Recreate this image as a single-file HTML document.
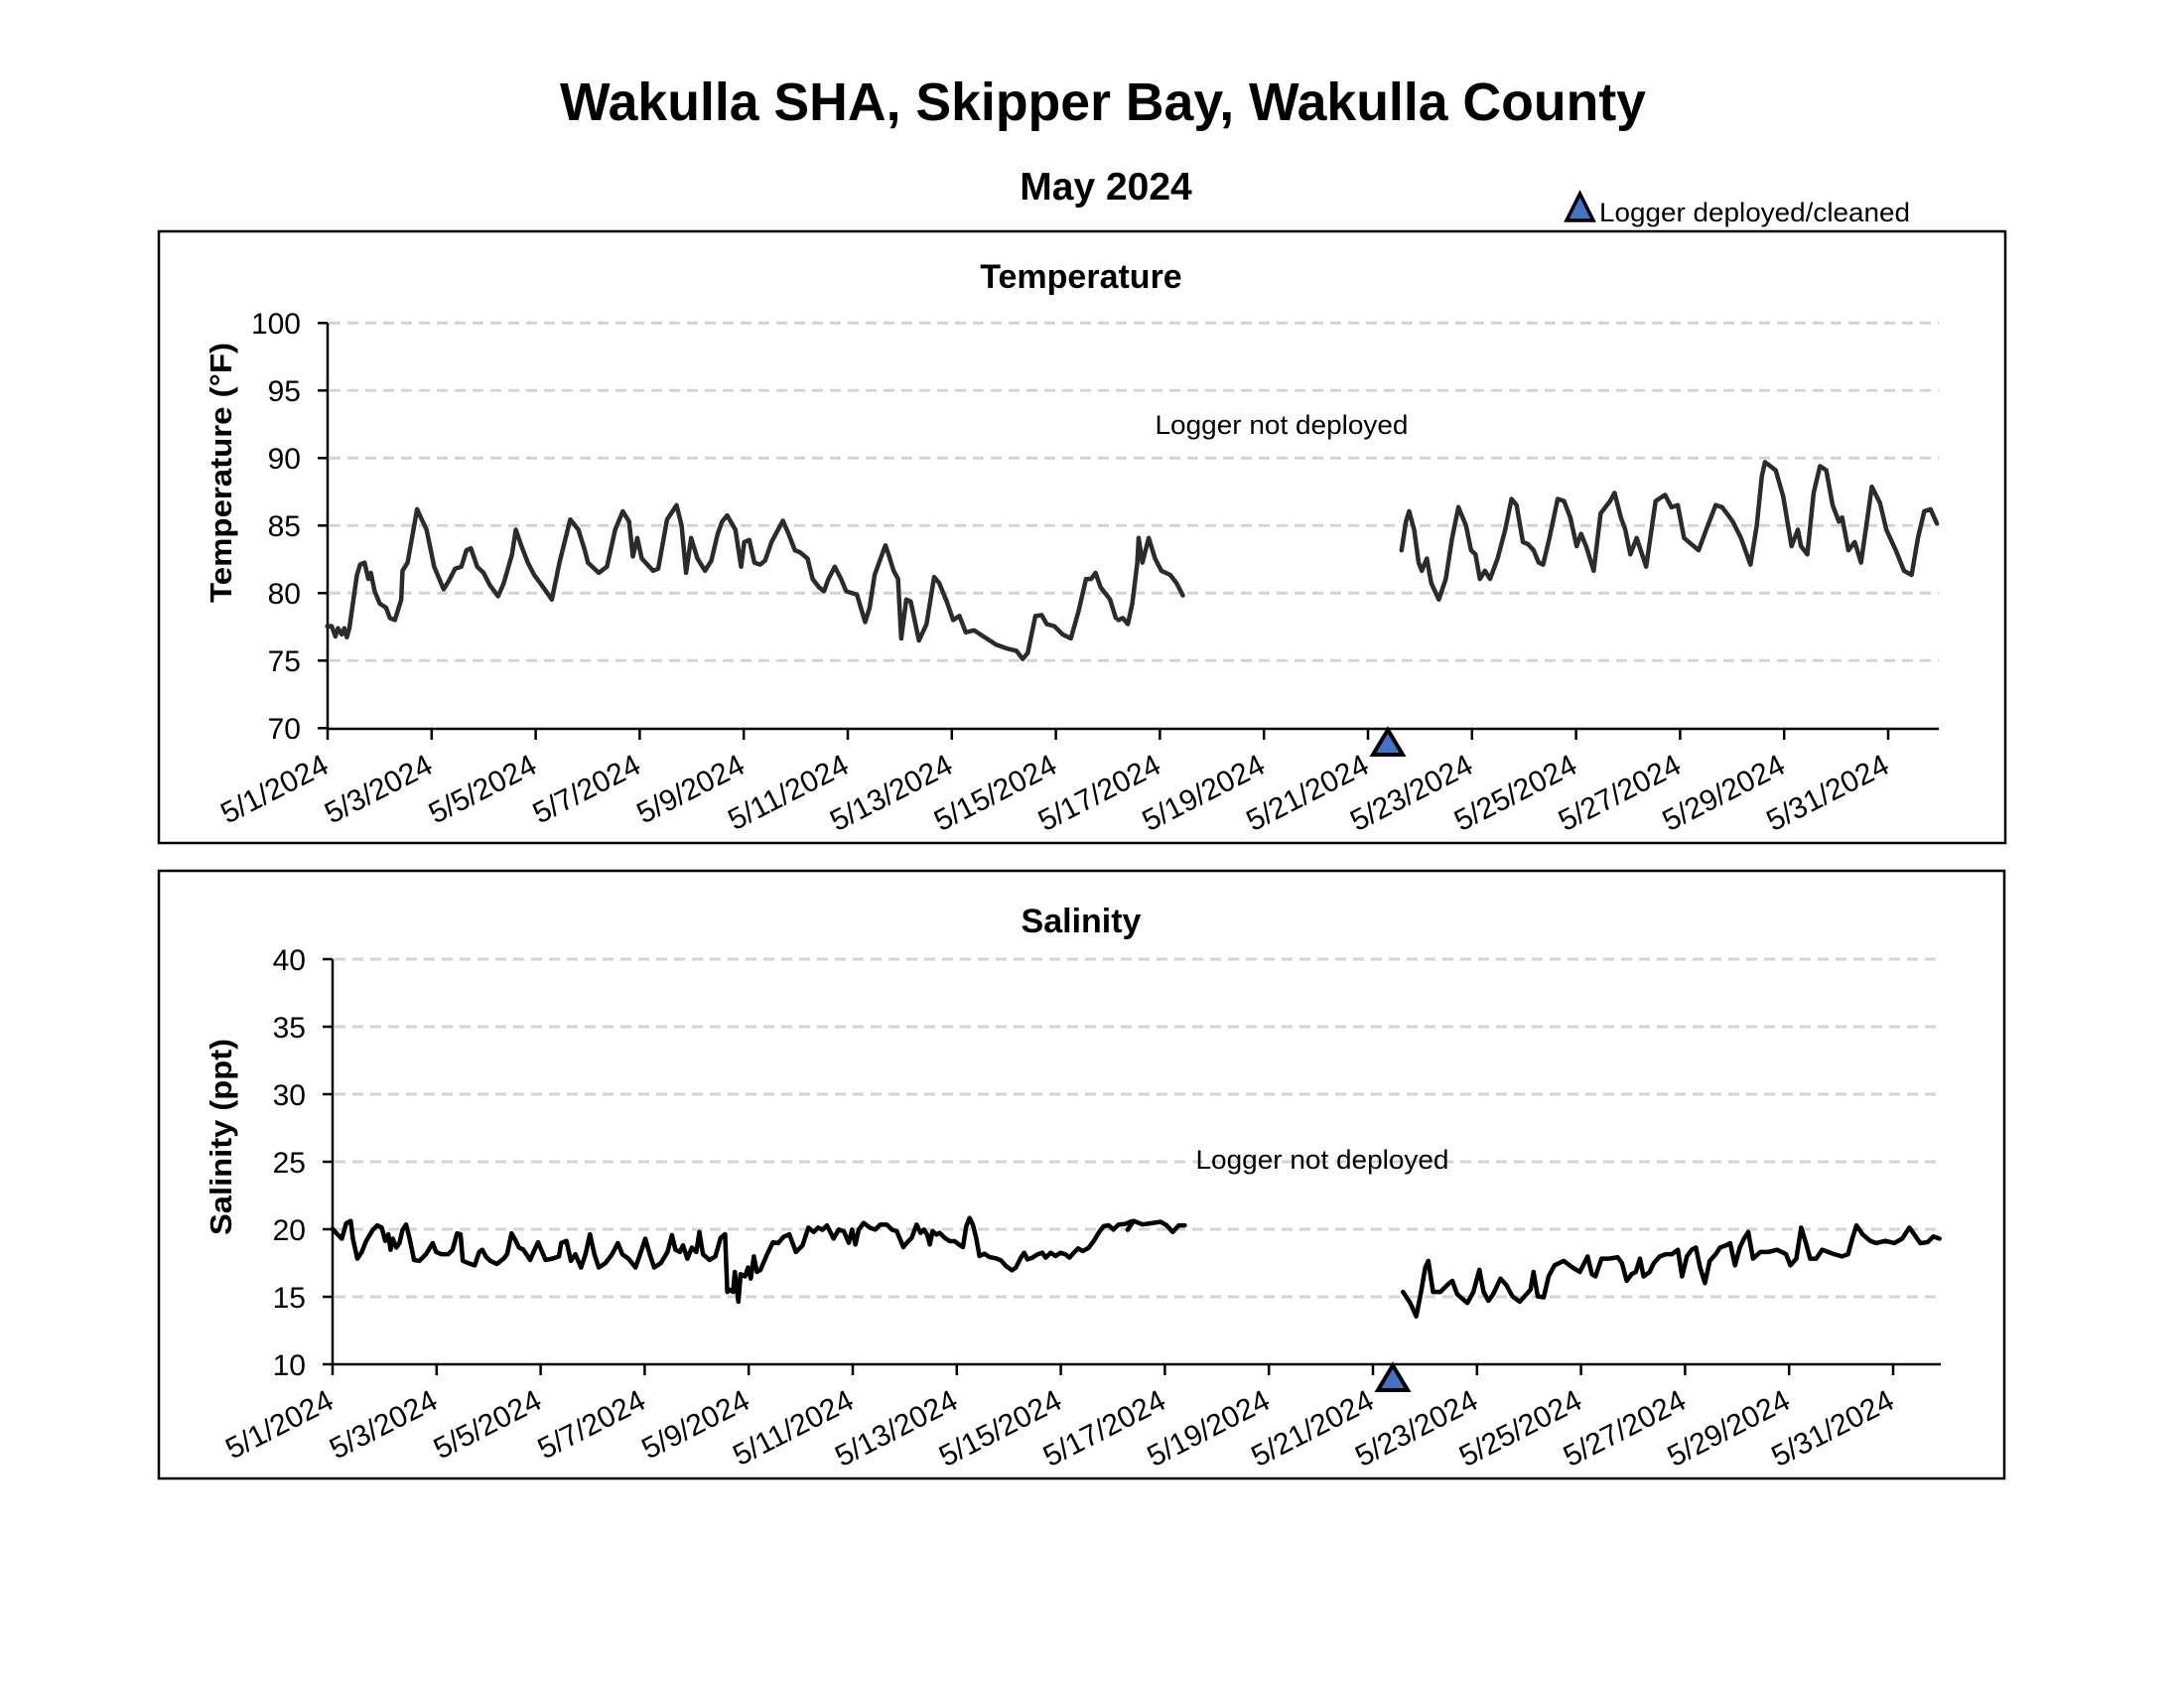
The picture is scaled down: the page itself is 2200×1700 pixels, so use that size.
<!DOCTYPE html>
<html><head><meta charset="utf-8"><style>
html,body{margin:0;padding:0;background:#fff;}
svg{display:block;}
text{font-family:"Liberation Sans",Arial,sans-serif;}
</style></head><body>
<svg width="2200" height="1700" viewBox="0 0 2200 1700" xmlns="http://www.w3.org/2000/svg">
<rect width="2200" height="1700" fill="#fff"/>
<!-- Header -->
<text x="1111" y="121" text-anchor="middle" font-size="54" font-weight="bold" textLength="1094" lengthAdjust="spacingAndGlyphs">Wakulla SHA, Skipper Bay, Wakulla County</text>
<text x="1114" y="201" text-anchor="middle" font-size="39" font-weight="bold">May 2024</text>
<polygon points="1591.5,195 1578,222 1605,222" fill="#4472c4" stroke="#000" stroke-width="3.5" stroke-linejoin="miter"/>
<text x="1611" y="223" font-size="27" textLength="313" lengthAdjust="spacingAndGlyphs">Logger deployed/cleaned</text>

<!-- ================= TEMPERATURE ================= -->
<rect x="160" y="233" width="1860" height="616" fill="none" stroke="#000" stroke-width="2.5"/>
<text x="1089" y="290" text-anchor="middle" font-size="34" font-weight="bold">Temperature</text>
<g stroke="#d3d3d3" stroke-width="3" stroke-dasharray="11,7">
<line x1="332" y1="325.3" x2="1953" y2="325.3"/>
<line x1="332" y1="393.3" x2="1953" y2="393.3"/>
<line x1="332" y1="461.3" x2="1953" y2="461.3"/>
<line x1="332" y1="529.3" x2="1953" y2="529.3"/>
<line x1="332" y1="597.3" x2="1953" y2="597.3"/>
<line x1="332" y1="665.3" x2="1953" y2="665.3"/>
</g>
<g stroke="#000" stroke-width="2.5">
<line x1="330" y1="325" x2="330" y2="734"/>
<line x1="330" y1="734" x2="1953" y2="734"/>
<line x1="320" y1="325.3" x2="330" y2="325.3"/><line x1="320" y1="393.3" x2="330" y2="393.3"/>
<line x1="320" y1="461.3" x2="330" y2="461.3"/><line x1="320" y1="529.3" x2="330" y2="529.3"/>
<line x1="320" y1="597.3" x2="330" y2="597.3"/><line x1="320" y1="665.3" x2="330" y2="665.3"/>
<line x1="320" y1="733.3" x2="330" y2="733.3"/>
</g>
<g font-size="30" text-anchor="end">
<text x="303" y="336">100</text><text x="303" y="404">95</text><text x="303" y="472">90</text>
<text x="303" y="540">85</text><text x="303" y="608">80</text><text x="303" y="676">75</text><text x="303" y="744">70</text>
</g>
<text transform="translate(233,476) rotate(-90)" text-anchor="middle" font-size="31" font-weight="bold" textLength="262" lengthAdjust="spacingAndGlyphs">Temperature (°F)</text>
<text x="1291" y="437" text-anchor="middle" font-size="27" textLength="255" lengthAdjust="spacingAndGlyphs">Logger not deployed</text>
<g stroke="#000" stroke-width="2.5">
<line x1="330" y1="734" x2="330" y2="745"/><line x1="434.8" y1="734" x2="434.8" y2="745"/>
<line x1="539.6" y1="734" x2="539.6" y2="745"/><line x1="644.4" y1="734" x2="644.4" y2="745"/>
<line x1="749.2" y1="734" x2="749.2" y2="745"/><line x1="854" y1="734" x2="854" y2="745"/>
<line x1="958.8" y1="734" x2="958.8" y2="745"/><line x1="1063.6" y1="734" x2="1063.6" y2="745"/>
<line x1="1168.4" y1="734" x2="1168.4" y2="745"/><line x1="1273.2" y1="734" x2="1273.2" y2="745"/>
<line x1="1378" y1="734" x2="1378" y2="745"/><line x1="1482.8" y1="734" x2="1482.8" y2="745"/>
<line x1="1587.6" y1="734" x2="1587.6" y2="745"/><line x1="1692.4" y1="734" x2="1692.4" y2="745"/>
<line x1="1797.2" y1="734" x2="1797.2" y2="745"/><line x1="1902" y1="734" x2="1902" y2="745"/>
</g>
<g font-size="30" text-anchor="end">
<text transform="translate(333,777) rotate(-27)">5/1/2024</text>
<text transform="translate(437.8,777) rotate(-27)">5/3/2024</text>
<text transform="translate(542.6,777) rotate(-27)">5/5/2024</text>
<text transform="translate(647.4,777) rotate(-27)">5/7/2024</text>
<text transform="translate(752.2,777) rotate(-27)">5/9/2024</text>
<text transform="translate(857,777) rotate(-27)">5/11/2024</text>
<text transform="translate(961.8,777) rotate(-27)">5/13/2024</text>
<text transform="translate(1066.6,777) rotate(-27)">5/15/2024</text>
<text transform="translate(1171.4,777) rotate(-27)">5/17/2024</text>
<text transform="translate(1276.2,777) rotate(-27)">5/19/2024</text>
<text transform="translate(1381,777) rotate(-27)">5/21/2024</text>
<text transform="translate(1485.8,777) rotate(-27)">5/23/2024</text>
<text transform="translate(1590.6,777) rotate(-27)">5/25/2024</text>
<text transform="translate(1695.4,777) rotate(-27)">5/27/2024</text>
<text transform="translate(1800.2,777) rotate(-27)">5/29/2024</text>
<text transform="translate(1905,777) rotate(-27)">5/31/2024</text>
</g>
<!-- temp series -->
<g transform="translate(149.2,219.5) scale(0.6375,0.4132)" fill="none" stroke="#2b2b2b" stroke-width="4.5" stroke-linejoin="round" stroke-linecap="round">
<polyline vector-effect="non-scaling-stroke" points="283,995 290,995 296,1020 300,1000 306,1015 310,1000 314,1022 318,1000 330,870 335,845 342,840 348,880 352,865 358,910 366,940 376,950 382,975 390,980 400,930 402,860 410,840 425,710 440,760 452,850 467,905 475,885 485,855 495,850 503,810 510,805 520,850 530,865 540,895 553,922 562,890 575,820 581,760 590,800 600,840 610,870 622,895 638,930 650,840 667,735 680,760 690,810 695,840 712,865 725,850 738,760 750,715 760,740 766,825 773,780 780,830 798,860 806,855 820,735 835,700 843,750 850,865 858,780 868,830 880,860 890,835 900,770 907,740 915,725 928,760 937,850 942,790 950,785 958,840 967,845 975,835 985,790 1003,738 1012,770 1022,810 1030,815 1042,830 1050,880 1060,900 1068,910 1075,880 1085,850 1095,880 1103,910 1120,918 1133,985 1140,950 1148,870 1155,840 1165,798 1170,820 1178,860 1185,880 1190,1025 1198,930 1205,935 1218,1030 1230,990 1242,875 1250,890 1262,935 1272,980 1282,970 1292,1010 1305,1005 1320,1020 1340,1040 1358,1050 1372,1055 1382,1075 1390,1060 1402,970 1412,968 1420,990 1432,995 1445,1015 1458,1025 1470,960 1482,880 1490,880 1497,865 1505,900 1520,930 1529,975"/>
</g>
<g transform="translate(1101.1,219.5) scale(0.6367,0.4132)" fill="none" stroke="#2b2b2b" stroke-width="4.5" stroke-linejoin="round" stroke-linecap="round">
<polyline vector-effect="non-scaling-stroke" points="40,980 47,975 55,990 62,940 70,840 72,780 78,840 88,780 98,830 108,860 122,870 132,890 142,920"/>
<polyline vector-effect="non-scaling-stroke" points="488,810 495,740 500,715 508,760 515,840 520,860 528,830 535,890 547,930 558,880 568,780 578,705 590,750 598,810 605,820 612,880 620,860 628,880 640,830 652,760 662,685 670,700 680,790 688,795 697,810 705,840 712,845 722,780 735,685 745,690 755,730 765,800 772,770 780,800 792,860 803,720 818,690 825,670 835,730 842,760 850,820 860,780 875,850 890,690 905,675 915,705 925,700 935,780 958,810 970,760 985,700 995,705 1005,725 1012,740 1025,780 1040,845 1050,750 1058,630 1063,595 1080,615 1092,680 1105,800 1115,760 1120,800 1130,820 1140,670 1150,605 1160,615 1170,700 1180,740 1185,730 1195,810 1205,790 1215,840 1228,700 1232,655 1245,695 1255,760 1270,810 1283,860 1295,870 1305,780 1315,715 1325,710 1335,745"/>
</g>
<polygon points="1398,735 1383,760 1413,760" fill="#4472c4" stroke="#000" stroke-width="4" stroke-linejoin="miter"/>

<!-- ================= SALINITY ================= -->
<rect x="160" y="877" width="1859" height="612" fill="none" stroke="#000" stroke-width="2.5"/>
<text x="1089" y="939" text-anchor="middle" font-size="34" font-weight="bold">Salinity</text>
<g stroke="#d3d3d3" stroke-width="3" stroke-dasharray="11,7">
<line x1="337" y1="966" x2="1955" y2="966"/>
<line x1="337" y1="1034" x2="1955" y2="1034"/>
<line x1="337" y1="1102" x2="1955" y2="1102"/>
<line x1="337" y1="1170" x2="1955" y2="1170"/>
<line x1="337" y1="1238" x2="1955" y2="1238"/>
<line x1="337" y1="1306" x2="1955" y2="1306"/>
</g>
<g stroke="#000" stroke-width="2.5">
<line x1="335" y1="966" x2="335" y2="1374"/>
<line x1="335" y1="1374" x2="1955" y2="1374"/>
<line x1="325" y1="966" x2="335" y2="966"/><line x1="325" y1="1034" x2="335" y2="1034"/>
<line x1="325" y1="1102" x2="335" y2="1102"/><line x1="325" y1="1170" x2="335" y2="1170"/>
<line x1="325" y1="1238" x2="335" y2="1238"/><line x1="325" y1="1306" x2="335" y2="1306"/>
<line x1="325" y1="1374" x2="335" y2="1374"/>
</g>
<g font-size="30" text-anchor="end">
<text x="308" y="977">40</text><text x="308" y="1045">35</text><text x="308" y="1113">30</text>
<text x="308" y="1181">25</text><text x="308" y="1249">20</text><text x="308" y="1317">15</text><text x="308" y="1385">10</text>
</g>
<text transform="translate(233,1145) rotate(-90)" text-anchor="middle" font-size="31" font-weight="bold" textLength="198" lengthAdjust="spacingAndGlyphs">Salinity (ppt)</text>
<text x="1332" y="1177" text-anchor="middle" font-size="27" textLength="255" lengthAdjust="spacingAndGlyphs">Logger not deployed</text>
<g stroke="#000" stroke-width="2.5">
<line x1="335" y1="1374" x2="335" y2="1385"/><line x1="439.8" y1="1374" x2="439.8" y2="1385"/>
<line x1="544.6" y1="1374" x2="544.6" y2="1385"/><line x1="649.4" y1="1374" x2="649.4" y2="1385"/>
<line x1="754.2" y1="1374" x2="754.2" y2="1385"/><line x1="859" y1="1374" x2="859" y2="1385"/>
<line x1="963.8" y1="1374" x2="963.8" y2="1385"/><line x1="1068.6" y1="1374" x2="1068.6" y2="1385"/>
<line x1="1173.4" y1="1374" x2="1173.4" y2="1385"/><line x1="1278.2" y1="1374" x2="1278.2" y2="1385"/>
<line x1="1383" y1="1374" x2="1383" y2="1385"/><line x1="1487.8" y1="1374" x2="1487.8" y2="1385"/>
<line x1="1592.6" y1="1374" x2="1592.6" y2="1385"/><line x1="1697.4" y1="1374" x2="1697.4" y2="1385"/>
<line x1="1802.2" y1="1374" x2="1802.2" y2="1385"/><line x1="1907" y1="1374" x2="1907" y2="1385"/>
</g>
<g font-size="30" text-anchor="end">
<text transform="translate(338,1417) rotate(-27)">5/1/2024</text>
<text transform="translate(442.8,1417) rotate(-27)">5/3/2024</text>
<text transform="translate(547.6,1417) rotate(-27)">5/5/2024</text>
<text transform="translate(652.4,1417) rotate(-27)">5/7/2024</text>
<text transform="translate(757.2,1417) rotate(-27)">5/9/2024</text>
<text transform="translate(862,1417) rotate(-27)">5/11/2024</text>
<text transform="translate(966.8,1417) rotate(-27)">5/13/2024</text>
<text transform="translate(1071.6,1417) rotate(-27)">5/15/2024</text>
<text transform="translate(1176.4,1417) rotate(-27)">5/17/2024</text>
<text transform="translate(1281.2,1417) rotate(-27)">5/19/2024</text>
<text transform="translate(1386,1417) rotate(-27)">5/21/2024</text>
<text transform="translate(1490.8,1417) rotate(-27)">5/23/2024</text>
<text transform="translate(1595.6,1417) rotate(-27)">5/25/2024</text>
<text transform="translate(1700.4,1417) rotate(-27)">5/27/2024</text>
<text transform="translate(1805.2,1417) rotate(-27)">5/29/2024</text>
<text transform="translate(1910,1417) rotate(-27)">5/31/2024</text>
</g>
<!-- salinity series -->
<g transform="translate(150.2,858.7) scale(0.4463,0.4469)" fill="none" stroke="#000" stroke-width="4.5" stroke-linejoin="round" stroke-linecap="round">
<polyline vector-effect="non-scaling-stroke" points="414,848 425,860 435,870 445,835 455,830 460,870 470,915 480,900 490,875 505,850 515,840 525,845 533,875 540,860 545,895 550,870 558,890 565,880 572,850 580,838 588,870 598,918 610,920 625,905 640,880 648,900 660,905 675,905 685,895 695,858 703,860 708,920 720,925 735,930 745,900 752,895 760,910 770,920 785,927 800,915 808,905 818,858 825,870 835,890 845,895 860,918 870,895 878,878 885,895 895,918 910,915 925,910 930,880 942,875 952,920 962,905 975,935 985,905 995,860 1005,905 1015,935 1030,925 1045,905 1058,880 1068,905 1082,915 1098,935 1110,900 1120,870 1130,905 1140,935 1155,925 1170,900 1180,862 1188,895 1198,900 1205,885 1215,915 1225,890 1235,900 1242,855 1250,905 1265,918 1278,910 1290,868 1300,860 1305,990 1310,985 1318,990 1322,945 1330,1012 1335,950 1345,955 1352,935 1358,960 1365,910 1372,945 1380,940 1395,905 1408,878 1420,880 1432,866 1445,860 1460,900 1475,885 1488,845 1500,855 1510,845 1520,850 1530,840 1545,870"/>
</g>
<g transform="translate(840,1180) scale(0.3333)" fill="none" stroke="#000" stroke-width="4.5" stroke-linejoin="round" stroke-linecap="round">
<polyline vector-effect="non-scaling-stroke" points="0,200 15,175 30,180 45,215 55,175 65,220 75,175 90,155 110,170 125,175 140,160 160,160 175,175 190,180 210,228 225,210 235,200 250,160 262,185 272,175 282,190 290,220 298,180 310,190 320,185 335,200 350,210 365,210 378,220 390,228 400,165 410,140 420,160 430,200 440,255 455,248 470,258 490,262 505,268 520,285 538,298 550,290 565,260 575,245 585,265 600,260 615,250 630,245 640,260 655,245 670,255 685,245 700,250 712,260 725,245 738,232 752,240 770,230 785,210 800,185 815,165 830,162 845,175 860,160 880,158 900,150"/>
</g>
<g transform="translate(1099.5,858.7) scale(0.6058,0.4469)" fill="none" stroke="#000" stroke-width="4.5" stroke-linejoin="round" stroke-linecap="round">
<polyline vector-effect="non-scaling-stroke" points="60,850 70,830 85,838 100,835 115,832 125,840 135,855 145,840 155,840"/>
<polyline vector-effect="non-scaling-stroke" points="518,990 530,1015 540,1045 548,990 555,935 560,920 568,990 580,990 595,970 600,965 608,995 625,1015 635,990 645,940 652,990 660,1010 668,995 680,960 690,975 700,1000 712,1012 720,1000 730,985 735,945 742,1000 752,1002 760,955 770,930 785,920 800,935 812,945 825,910 832,950 838,955 848,915 860,915 875,912 882,925 890,965 898,950 905,945 912,915 918,955 928,945 935,925 945,910 955,905 965,905 975,895 982,955 990,910 998,895 1005,890 1012,935 1020,970 1028,920 1038,905 1045,890 1055,885 1062,880 1070,930 1078,890 1085,870 1092,855 1100,915 1112,900 1125,900 1140,895 1155,905 1162,930 1172,915 1180,845 1188,880 1195,915 1205,915 1215,895 1225,900 1235,905 1248,910 1258,905 1265,870 1272,840 1282,860 1295,875 1305,880 1320,875 1335,880 1348,870 1360,845 1368,860 1378,880 1390,878 1400,865 1410,870"/>
</g>
<polygon points="1403,1375 1388,1400 1418,1400" fill="#4472c4" stroke="#000" stroke-width="4" stroke-linejoin="miter"/>
</svg>
</body></html>
